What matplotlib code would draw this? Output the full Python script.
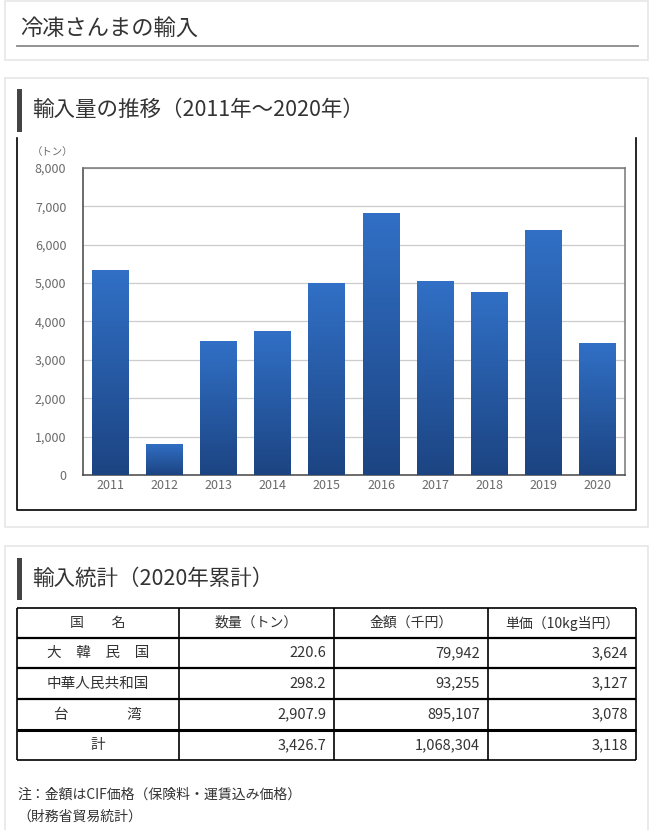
import matplotlib.pyplot as plt
import numpy as np
from matplotlib.patches import Rectangle
from matplotlib.colors import LinearSegmentedColormap

plt.rcParams['font.family'] = ['Noto Sans CJK JP', 'DejaVu Sans']

# データ
years = ["2011", "2012", "2013", "2014", "2015", "2016", "2017", "2018", "2019", "2020"]
volumes = [5330, 810, 3490, 3750, 5000, 6830, 5050, 4770, 6380, 3427]
y_ticks = [0, 1000, 2000, 3000, 4000, 5000, 6000, 7000, 8000]

table_header = ["国　　名", "数量（トン）", "金額（千円）", "単価（10kg当円）"]
countries = ["大　韓　民　国", "中華人民共和国", "台　　　　湾", "計"]
qty = ["220.6", "298.2", "2,907.9", "3,426.7"]
amount = ["79,942", "93,255", "895,107", "1,068,304"]
unit_price = ["3,624", "3,127", "3,078", "3,118"]

W, H = 664, 830
fig = plt.figure(figsize=(W / 100, H / 100), dpi=100)
bg = fig.add_axes([0, 0, 1, 1])
bg.set_xlim(0, W)
bg.set_ylim(H, 0)
bg.axis("off")

txt = "#333333"
card_ec = "#e6e6e6"

# カード枠
for (x0, y0, x1, y1) in [(5, 1, 648, 60), (5, 78, 648, 527), (5, 546, 648, 832)]:
    bg.add_patch(Rectangle((x0, y0), x1 - x0, y1 - y0, fc="white", ec=card_ec, lw=1.2))

# タイトル
bg.text(20, 28, "冷凍さんまの輸入", fontsize=16, color=txt, va="center", ha="left")
bg.plot([17, 638], [46.5, 46.5], color="#8a8a8a", lw=1.3)

# 見出し
bg.add_patch(Rectangle((17, 89), 5, 43, fc="#444444", ec="none"))
bg.text(32, 110, "輸入量の推移（2011年〜2020年）", fontsize=15.5, color=txt, va="center")
bg.add_patch(Rectangle((17, 558), 5, 42, fc="#444444", ec="none"))
bg.text(32, 579, "輸入統計（2020年累計）", fontsize=15.5, color=txt, va="center")

# グラフ外枠（左・右・下）
bg.plot([17, 17, 636, 636], [138, 510, 510, 138], color="black", lw=1.2)

# 棒グラフ
ax = fig.add_axes([83 / W, 1 - 475 / H, (625 - 83) / W, (475 - 168) / H])
x = np.arange(len(years))
bars = ax.bar(x, volumes, width=0.68, color="#2a5fae", zorder=2)
ax.set_yticks(y_ticks)
ax.set_yticklabels([f"{v:,}" for v in y_ticks], fontsize=9, color="#6a6a6a")
ax.set_xticks(x)
ax.set_xticklabels(years, fontsize=9, color="#6a6a6a")
ax.tick_params(length=0, pad=3)
ax.tick_params(axis="y", pad=12)
ax.grid(axis="y", color="#cccccc", lw=0.9, zorder=0)
for s in ["top", "right"]:
    ax.spines[s].set_color("#777777")
for s in ["left", "bottom"]:
    ax.spines[s].set_color("#444444")
for s in ax.spines.values():
    s.set_linewidth(1.1)

# グラデーション
cmap = LinearSegmentedColormap.from_list("bar", ["#1c4482", "#3170c6"])
grad = np.linspace(0, 1, 256).reshape(-1, 1)
for b in bars:
    bx, by = b.get_x(), b.get_y()
    bw, bh = b.get_width(), b.get_height()
    im = ax.imshow(grad, cmap=cmap, origin="lower", aspect="auto",
                   extent=[bx, bx + bw, by, by + bh], zorder=3)
    im.set_clip_path(b)
ax.set_xlim(-0.5, len(years) - 0.5)
ax.set_ylim(0, 8000)
bg.text(32, 152, "（トン）", fontsize=7.5, color="#6a6a6a", va="center", ha="left")

# 表
col_x = [17, 179, 334, 488, 636]
row_y = [608, 638, 668, 699, 730, 760]
for i, yy in enumerate(row_y):
    lw = 1.6 if 0 < i < len(row_y) - 1 else 1.2
    if i == 4:
        lw = 2.2
    bg.plot([col_x[0], col_x[-1]], [yy, yy], color="black", lw=lw, solid_capstyle="butt")
for xx in col_x:
    bg.plot([xx, xx], [row_y[0], row_y[-1]], color="black", lw=1.2, solid_capstyle="butt")

def mid(a, b):
    return (a + b) / 2

for j, h in enumerate(table_header):
    bg.text(mid(col_x[j], col_x[j + 1]), mid(row_y[0], row_y[1]), h,
            fontsize=10, color=txt, ha="center", va="center")
for i in range(len(countries)):
    cy = mid(row_y[i + 1], row_y[i + 2])
    bg.text(mid(col_x[0], col_x[1]), cy, countries[i], fontsize=10.5, color=txt,
            ha="center", va="center")
    for j, col in enumerate([qty, amount, unit_price]):
        bg.text(col_x[j + 2] - 8, cy, col[i], fontsize=10.5, color=txt,
                ha="right", va="center")

# 注記
bg.text(17, 795, "注：金額はCIF価格（保険料・運賃込み価格）", fontsize=10, color=txt, va="center")
bg.text(17, 817, "（財務省貿易統計）", fontsize=10, color=txt, va="center")

plt.savefig("out.png", dpi=100)
